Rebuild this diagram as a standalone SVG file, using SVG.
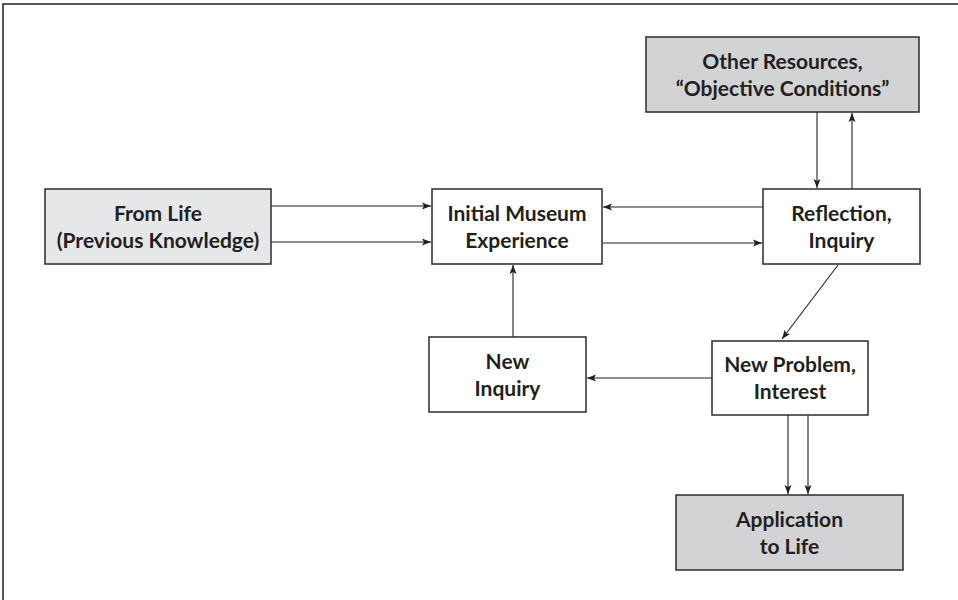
<svg xmlns="http://www.w3.org/2000/svg" width="958" height="600" viewBox="0 0 958 600">
<style>
.box{stroke:#2b2b2b;stroke-width:1.5}
.w{fill:#ffffff}
.l{fill:#e6e7e8}
.g{fill:#d1d3d4}
text{font-family:Lato,"Open Sans","Liberation Sans",sans-serif;font-weight:bold;font-size:21px;fill:#231f20;text-anchor:middle}
.c line{stroke:#231f20;stroke-width:1.1;marker-end:url(#ah)}
</style>
<defs>
<marker id="ah" markerUnits="userSpaceOnUse" markerWidth="10" markerHeight="8" refX="9" refY="4" orient="auto">
<path d="M0,0.5 L9,4 L0,7.5 L2,4 z" fill="#231f20"/>
</marker>
</defs>
<rect x="3" y="4" width="960" height="600" fill="none" stroke="#231f20" stroke-width="1.5"/>
<g class="c" id="connectors">
<line x1="271" y1="206" x2="431" y2="206"/>
<line x1="271" y1="242" x2="431" y2="242"/>
<line x1="763" y1="207" x2="603" y2="207"/>
<line x1="603" y1="243" x2="762" y2="243"/>
<line x1="817" y1="112" x2="817" y2="188"/>
<line x1="852" y1="189" x2="852" y2="113"/>
<line x1="838" y1="265" x2="782" y2="339"/>
<line x1="712" y1="378" x2="587" y2="378"/>
<line x1="513" y1="337" x2="513" y2="265"/>
<line x1="788" y1="415" x2="788" y2="494"/>
<line x1="808" y1="415" x2="808" y2="494"/>
</g>
<g id="from-life">
<rect class="box l" x="45" y="189" width="226" height="75"/>
<text x="158" y="221">From Life</text>
<text x="158" y="248">(Previous Knowledge)</text>
</g>
<g id="initial-museum">
<rect class="box w" x="432" y="189" width="170" height="75"/>
<text x="517" y="221">Initial Museum</text>
<text x="517" y="248">Experience</text>
</g>
<g id="reflection">
<rect class="box w" x="763" y="189" width="157" height="75"/>
<text x="841.5" y="221">Reflection,</text>
<text x="841.5" y="248">Inquiry</text>
</g>
<g id="other-resources">
<rect class="box g" x="646" y="37" width="273" height="75"/>
<text x="782.5" y="69">Other Resources,</text>
<text x="782.5" y="96">“Objective Conditions”</text>
</g>
<g id="new-inquiry">
<rect class="box w" x="429" y="337" width="157" height="75"/>
<text x="507.5" y="369">New</text>
<text x="507.5" y="396">Inquiry</text>
</g>
<g id="new-problem">
<rect class="box w" x="712" y="341" width="156" height="74"/>
<text x="790" y="372">New Problem,</text>
<text x="790" y="399">Interest</text>
</g>
<g id="application">
<rect class="box g" x="676" y="495" width="227" height="75"/>
<text x="789.5" y="527">Application</text>
<text x="789.5" y="554">to Life</text>
</g>
</svg>
